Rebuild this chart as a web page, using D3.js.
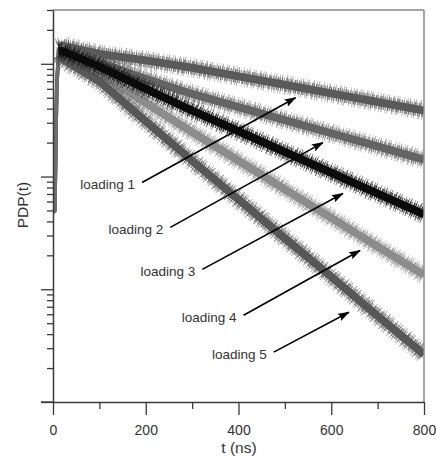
<!DOCTYPE html>
<html><head><meta charset="utf-8">
<script src="https://cdn.jsdelivr.net/npm/d3@7"></script>
<style>html,body{margin:0;padding:0;background:#fff;} svg{display:block;font-family:"Liberation Sans",Arial,sans-serif;}</style>
</head><body><svg id="c" width="436" height="457"></svg>
<script>
// time knots (ns) and PDP values (arbitrary units, log axis)
const times = [0, 4, 8, 12, 20, 100, 200, 300, 400, 500, 600, 700, 800];
const loading1 = [48, 50, 600, 1400, 1450, 1221, 1072, 922, 774, 651, 546, 458, 385];
const loading2 = [48, 50, 600, 1350, 1350, 1031, 734, 540, 413, 316, 242, 185, 141];
const loading3 = [48, 50, 600, 1300, 1300, 943, 598, 385, 252, 165, 108, 70.6, 46.2];
const loading4 = [48, 50, 600, 1250, 1200, 829, 451, 248, 138, 77, 42.9, 23.9, 13.4];
const loading5 = [48, 50, 600, 1200, 1100, 700, 309, 138, 62.6, 28.3, 12.9, 5.8, 2.64];
const seriesNames = ["loading 1", "loading 2", "loading 3", "loading 4", "loading 5"];
const seriesColors = ["#5a5a5a", "#646464", "#0a0a0a", "#8c8c8c", "#575757"];
const drawOrder = [0, 1, 3, 4, 2];
const xTicks = [0, 200, 400, 600, 800];
const xMinorTicks = [100, 300, 500, 700];
const yDecades = [1, 10, 100, 1000];
// annotation arrows: [t, value] start and end
const arrowStart = [[192, 88.5], [253, 35.4], [322, 15.0], [411, 5.89], [476, 2.77]];
const arrowEnd = [[523, 500], [582, 200], [625, 70.7], [662, 22.1], [638, 6.26]];

const series = [loading1, loading2, loading3, loading4, loading5];
const svg = d3.select("#c");
const L = 53, R = 424, T = 10, B = 402;
const x = d3.scaleLinear().domain([0, 800]).range([L, R]);
const y = d3.scaleLog().domain([1, 3000]).range([B, T]);

svg.append("defs").append("clipPath").attr("id", "clip")
  .append("rect").attr("x", L).attr("y", T).attr("width", R - L).attr("height", B - T);

const line = d3.line().x(d => x(d[0])).y(d => y(d[1]));
const gData = svg.append("g").attr("clip-path", "url(#clip)");
const riseEnd = 3; // index where the fast rise ends
// rising edge (thin)
drawOrder.forEach(i => {
  const pts = times.slice(0, riseEnd + 1).map((t, k) => [t, series[i][k]]);
  gData.append("path").attr("d", line(pts)).attr("fill", "none")
    .attr("stroke", "#6e6e6e").attr("stroke-width", 3.5).attr("stroke-linejoin", "round");
});
// noisy decays
drawOrder.forEach(i => {
  const pts = times.map((t, k) => [t, series[i][k]]).slice(riseEnd);
  const g = gData.append("g");
  g.append("path").attr("d", line(pts)).attr("fill", "none")
    .attr("stroke", seriesColors[i]).attr("stroke-width", 19).attr("stroke-opacity", 0.5)
    .attr("stroke-linejoin", "round")
    .attr("stroke-dasharray", "0.8 1.6 1.2 2.9 0.7 1.3 1 3.6 1.5 2.2 0.9 1.1 1.1 4 0.8 2.5");
  g.append("path").attr("d", line(pts)).attr("fill", "none")
    .attr("stroke", seriesColors[i]).attr("stroke-width", 13.5).attr("stroke-opacity", 0.8)
    .attr("stroke-linejoin", "round").attr("stroke-dasharray", "1.2 0.9 0.8 1.5 1.5 0.6 1 1.2");
  g.append("path").attr("d", line(pts)).attr("fill", "none")
    .attr("stroke", seriesColors[i]).attr("stroke-width", 8)
    .attr("stroke-linejoin", "round");
});

// frame (top/right)
svg.append("line").attr("x1", L).attr("x2", R).attr("y1", T).attr("y2", T).attr("stroke", "#8a8a8a").attr("stroke-width", 1.5);
svg.append("line").attr("x1", R).attr("x2", R).attr("y1", T).attr("y2", B).attr("stroke", "#8a8a8a").attr("stroke-width", 1.5);

// x axis
const axColor = "#3a3a3a";
const gx = svg.append("g").attr("transform", `translate(0,${B})`)
  .call(d3.axisBottom(x).tickValues(xTicks).tickSizeInner(13).tickSizeOuter(0).tickPadding(10).tickFormat(d3.format("d")));
svg.append("g").attr("transform", `translate(0,${B})`)
  .call(d3.axisBottom(x).tickValues(xMinorTicks).tickSize(7).tickFormat(""))
  .select(".domain").remove();
// y axis
const yMinor = [];
yDecades.forEach(d => { for (let k = 2; k <= 9; k++) if (d * k <= 3000) yMinor.push(d * k); });
const gy = svg.append("g").attr("transform", `translate(${L},0)`)
  .call(d3.axisLeft(y).tickValues(yDecades).tickSizeInner(12).tickSizeOuter(0).tickFormat(""));
svg.append("g").attr("transform", `translate(${L},0)`)
  .call(d3.axisLeft(y).tickValues(yMinor).tickSize(6).tickFormat(""))
  .select(".domain").remove();
svg.selectAll(".domain").attr("stroke", axColor).attr("stroke-width", 1.5);
svg.selectAll(".tick line").attr("stroke", axColor).attr("stroke-width", 1.3);
gx.selectAll(".tick text").attr("font-size", 14).attr("fill", "#333")
  .attr("font-family", "'Liberation Sans',Arial,sans-serif");
svg.append("line").attr("x1", L - 12).attr("x2", L).attr("y1", B).attr("y2", B).attr("stroke", axColor).attr("stroke-width", 1.3);

// axis titles
svg.append("text").attr("x", (L + R) / 2 + 0.5).attr("y", 453).attr("text-anchor", "middle")
  .attr("font-size", 15.5).attr("fill", "#333").text("t (ns)");
svg.append("text").attr("transform", "translate(28,205) rotate(-90)").attr("text-anchor", "middle")
  .attr("font-size", 15.5).attr("fill", "#333").text("PDP(t)");

// arrows
svg.select("defs").append("marker").attr("id", "ah").attr("viewBox", "0 0 12 8")
  .attr("refX", 11).attr("refY", 4).attr("markerWidth", 12).attr("markerHeight", 8)
  .attr("markerUnits", "userSpaceOnUse").attr("orient", "auto")
  .append("path").attr("d", "M0,0 L12,4 L0,8 L2,4 Z").attr("fill", "#000");
seriesNames.forEach((name, i) => {
  const s = arrowStart[i], e = arrowEnd[i];
  svg.append("line").attr("x1", x(s[0])).attr("y1", y(s[1])).attr("x2", x(e[0])).attr("y2", y(e[1]))
    .attr("stroke", "#000").attr("stroke-width", 1.6).attr("marker-end", "url(#ah)");
  svg.append("text").attr("x", x(s[0]) - 7).attr("y", y(s[1]) + 6.5).attr("text-anchor", "end")
    .attr("font-size", 13.5).attr("fill", "#333").text(name);
});
</script></body></html>
